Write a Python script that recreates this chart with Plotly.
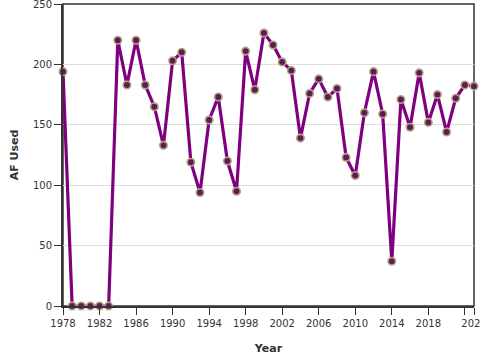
import plotly.graph_objects as go

years = list(range(1978, 2024))
af_used = [194, 0, 0, 0, 0, 0, 220, 183, 220, 183,
           165, 133, 203, 210, 119, 94, 154, 173, 120, 95,
           211, 179, 226, 216, 202, 195, 139, 176, 188, 173,
           180, 123, 108, 160, 194, 159, 37, 171, 148, 193,
           152, 175, 144, 172, 183, 182]

x_tickvals = [1978, 1982, 1986, 1990, 1994, 1998, 2002, 2006, 2010, 2014, 2018, 2022, 2023]
x_ticktext = ["1978", "1982", "1986", "1990", "1994", "1998", "2002", "2006", "2010", "2014", "2018", "", "2023"]
y_tickvals = [0, 50, 100, 150, 200, 250]

fig = go.Figure()
fig.add_trace(go.Scatter(
    x=years, y=af_used, mode="lines+markers",
    line=dict(color="#800080", width=3.2),
    marker=dict(size=7.5, color="#5a1d5a", line=dict(color="#b8a47e", width=1.6)),
    cliponaxis=False,
    showlegend=False,
))

fig.update_layout(
    width=480, height=360,
    margin=dict(l=63, r=6, t=4, b=54, autoexpand=False),
    paper_bgcolor="white", plot_bgcolor="white",
    font=dict(family="DejaVu Sans", size=10, color="#333"),
    xaxis=dict(
        range=[1978, 2023], tickvals=x_tickvals, ticktext=x_ticktext,
        showgrid=False, zeroline=False, ticklabeloverflow="allow",
        showline=True, linecolor="#333", linewidth=2,
        ticks="outside", ticklen=7, tickcolor="#333", tickwidth=1,
        title=dict(text="<b>Year</b>", font=dict(size=11, color="#333"), standoff=16),
    ),
    yaxis=dict(
        range=[0, 250], tickvals=y_tickvals,
        showgrid=True, gridcolor="#dddddd", gridwidth=1, zeroline=False, ticklabeloverflow="allow",
        showline=True, linecolor="#333", linewidth=2,
        ticks="outside", ticklen=7, tickcolor="#333", tickwidth=1,
        title=dict(text="<b>AF Used</b>", font=dict(size=11, color="#333"), standoff=12),
    ),
    shapes=[dict(type="rect", xref="paper", yref="paper", x0=0, y0=0, x1=1, y1=1,
                 line=dict(color="#333", width=1.5), layer="below")],
)

fig.write_html("out.html", config={"displayModeBar": False},
               post_script="document.body.style.margin='0';")
